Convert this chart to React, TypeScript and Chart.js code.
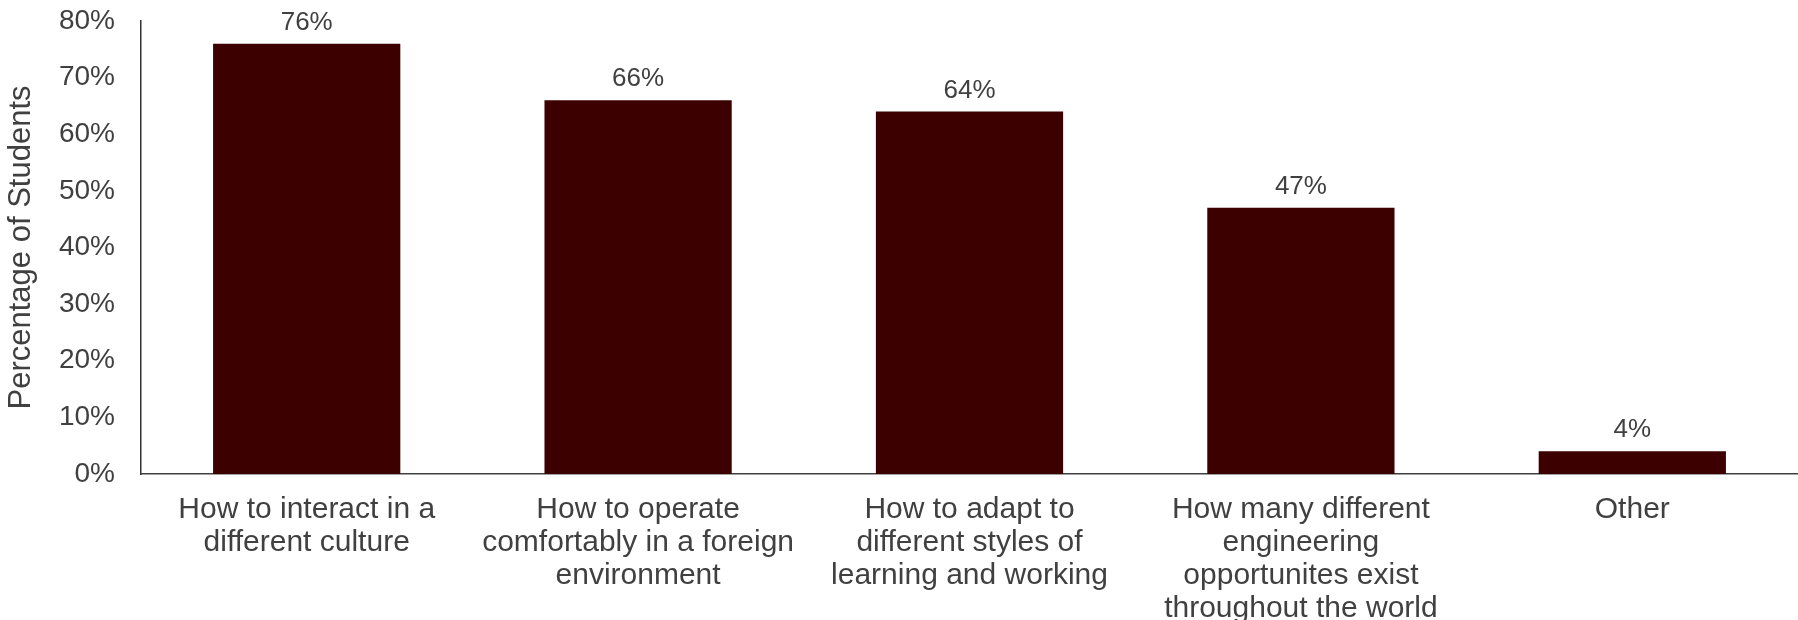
import React, { useEffect, useRef } from "react";
import { Chart, registerables } from "chart.js";

Chart.register(...registerables);

const categories: string[][] = [
  ["How to interact in a", "different culture"],
  ["How to operate", "comfortably in a foreign", "environment"],
  ["How to adapt to", "different styles of", "learning and working"],
  ["How many different", "engineering", "opportunites exist", "throughout the world"],
  ["Other"],
];
const values: number[] = [76, 66, 64, 47, 4];
const yTicksMax = 80;
const yStep = 10;
const yTitle = "Percentage of Students";

const FONT = "'Liberation Sans', Arial, sans-serif";
const BAR = "#3C0000";
const TEXT = "#404040";

const valueLabels = {
  id: "valueLabels",
  afterDatasetsDraw(chart: any) {
    const ctx = chart.ctx;
    const meta = chart.getDatasetMeta(0);
    ctx.save();
    ctx.font = `26px ${FONT}`;
    ctx.fillStyle = TEXT;
    ctx.textAlign = "center";
    ctx.textBaseline = "alphabetic";
    meta.data.forEach((bar: any, i: number) => {
      ctx.fillText(`${values[i]}%`, bar.x, bar.y - 14);
    });
    ctx.restore();
  },
};

export default function App() {
  const ref = useRef<HTMLCanvasElement>(null);
  useEffect(() => {
    if (!ref.current) return;
    const chart = new Chart(ref.current, {
      type: "bar",
      data: {
        labels: categories,
        datasets: [
          {
            data: values,
            backgroundColor: BAR,
            borderWidth: 0,
            barPercentage: 1,
            categoryPercentage: 0.565,
          },
        ],
      },
      options: {
        animation: false,
        responsive: false,
        maintainAspectRatio: false,
        layout: { padding: { top: 21, right: 0, left: 0, bottom: 0 } },
        plugins: { legend: { display: false }, tooltip: { enabled: false } },
        scales: {
          x: {
            grid: { display: false, drawTicks: false },
            border: { display: true, color: "#404040", width: 1.5 },
            ticks: {
              color: TEXT,
              font: { family: FONT, size: 30, lineHeight: 1.1 },
              padding: 19,
              maxRotation: 0,
              autoSkip: false,
            },
            afterFit: (s: any) => {
              s.height = 146;
            },
          },
          y: {
            min: 0,
            max: yTicksMax,
            grid: { display: false, drawTicks: false },
            border: { display: true, color: "#333333", width: 1.5 },
            ticks: {
              stepSize: yStep,
              color: TEXT,
              font: { family: FONT, size: 28 },
              padding: 26,
              callback: (v: any) => `${v}%`,
            },
            title: {
              display: true,
              text: yTitle,
              color: TEXT,
              font: { family: FONT, size: 31 },
              padding: { top: 3, bottom: 4 },
            },
            afterFit: (s: any) => {
              s.width = 141;
              s.paddingTop = 0;
              s.paddingBottom = 0;
            },
          },
        },
      },
      plugins: [valueLabels],
    });
    return () => chart.destroy();
  }, []);
  return (
    <div style={{ position: "fixed", left: 0, top: 0, width: 1798, height: 620, background: "#fff" }}>
      <canvas ref={ref} width={1798} height={620} style={{ width: 1798, height: 620, display: "block" }} />
    </div>
  );
}
